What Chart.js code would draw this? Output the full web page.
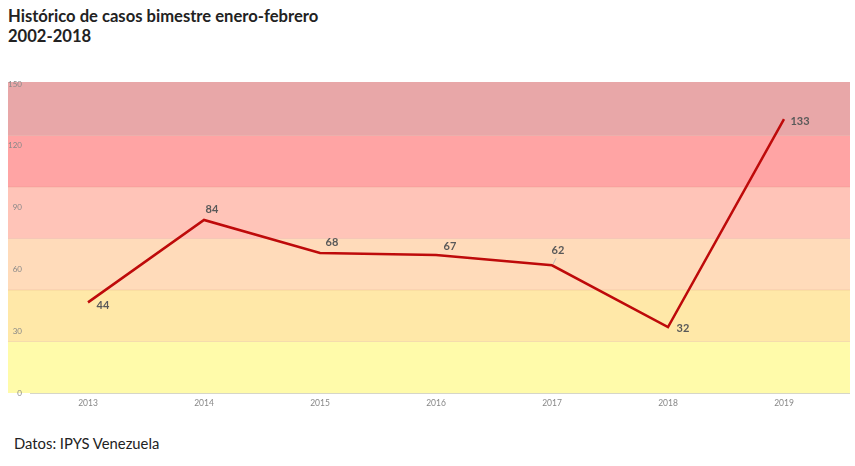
<!DOCTYPE html>
<html>
<head>
<meta charset="utf-8">
<script src="https://cdn.jsdelivr.net/npm/chart.js@4"></script>
<style>
  body { margin: 0; width: 855px; height: 466px; background: #fff; position: relative; overflow: hidden; font-family: Lato, sans-serif; }
  #title { position: absolute; left: 8px; top: 6px; font-weight: bold; font-size: 16.6px; line-height: 20px; color: #222; }
  #source { position: absolute; left: 14px; top: 434px; font-size: 14.8px; color: #222; }
  #wrap { position: absolute; left: 8px; top: 76px; width: 842px; height: 340px; }
</style>
</head>
<body>
<div id="title">Histórico de casos bimestre enero-febrero<br>2002-2018</div>
<div id="wrap"><canvas id="chart"></canvas></div>
<div id="source">Datos: IPYS Venezuela</div>
<script>
// data
const years = ["2013", "2014", "2015", "2016", "2017", "2018", "2019"]
const cases = [44, 84, 68, 67, 62, 32, 133]
const yTicks = [0, 30, 60, 90, 120, 150]

// background bands (value ranges + colour)
const bandLimits = [0, 25, 50, 75, 100, 125, 150]
const bandColors = ["#FFFBAA", "#FFE8A8", "#FFDBBA", "#FFC4B8", "#FFA4A4", "#E8A7A8"]

// label nudges, in px, per point
const labelOffsets = [[15, 3], [8, -11], [12, -10], [14, -9], [6, -15], [15, 1], [16, 2]]

const bandsPlugin = {
  id: "bands",
  beforeDraw(chart) {
    const { ctx, scales: { y }, width } = chart
    ctx.save()
    for (let i = 0; i < bandColors.length; i++) {
      let top = y.getPixelForValue(bandLimits[i + 1])
      const bottom = y.getPixelForValue(bandLimits[i])
      if (i === bandColors.length - 1) top -= 2
      ctx.fillStyle = bandColors[i]
      ctx.fillRect(0, top, width, bottom - top)
      if (i > 0) {
        ctx.fillStyle = "rgba(200,120,100,0.18)"
        ctx.fillRect(0, bottom - 0.5, width, 1)
      }
    }
    // zero line
    ctx.strokeStyle = "#d6d6c8"
    ctx.lineWidth = 1
    const y0 = Math.round(y.getPixelForValue(0)) + 0.5
    ctx.beginPath()
    ctx.moveTo(chart.chartArea.left, y0)
    ctx.lineTo(width, y0)
    ctx.stroke()
    ctx.restore()
  }
}

const labelsPlugin = {
  id: "pointLabels",
  afterDatasetsDraw(chart) {
    const { ctx } = chart
    const meta = chart.getDatasetMeta(0)
    ctx.save()
    ctx.font = "bold 11px Lato, sans-serif"
    ctx.fillStyle = "#595959"
    ctx.textAlign = "center"
    ctx.textBaseline = "middle"
    meta.data.forEach((pt, i) => {
      const [dx, dy] = labelOffsets[i]
      ctx.fillText(String(cases[i]), pt.x + dx, pt.y + dy)
    })
    // leader line for 2017
    const p = meta.data[4]
    ctx.strokeStyle = "#bbbbbb"
    ctx.lineWidth = 1
    ctx.beginPath()
    ctx.moveTo(p.x + 1, p.y - 1)
    ctx.lineTo(p.x + 4, p.y - 7)
    ctx.stroke()
    ctx.restore()
  }
}

new Chart(document.getElementById("chart"), {
  type: "line",
  data: {
    labels: years,
    datasets: [{
      data: cases,
      borderColor: "#BE0A0A",
      borderWidth: 2.5,
      pointRadius: 0,
      tension: 0,
      fill: false
    }]
  },
  options: {
    responsive: true,
    maintainAspectRatio: false,
    animation: false,
    layout: { padding: { top: 8, right: 8, left: 0, bottom: 0 } },
    plugins: { legend: { display: false }, tooltip: { enabled: false } },
    scales: {
      x: {
        offset: true,
        grid: { display: false, drawTicks: false },
        border: { display: false },
        ticks: { color: "#888", font: { size: 8.5, family: "Lato" }, padding: 5 },
        afterFit(axis) { axis.height = 23; axis.paddingLeft = 0; axis.paddingRight = 0 }
      },
      y: {
        min: 0,
        max: 150,
        afterBuildTicks(axis) { axis.ticks = yTicks.map(v => ({ value: v })) },
        grid: { display: false, drawTicks: false },
        border: { display: false },
        ticks: { color: "#888", font: { size: 8, family: "Lato" }, padding: 8 },
        afterFit(axis) { axis.width = 22; axis.paddingTop = 0; axis.paddingBottom = 0 }
      }
    }
  },
  plugins: [bandsPlugin, labelsPlugin]
})
</script>
</body>
</html>
